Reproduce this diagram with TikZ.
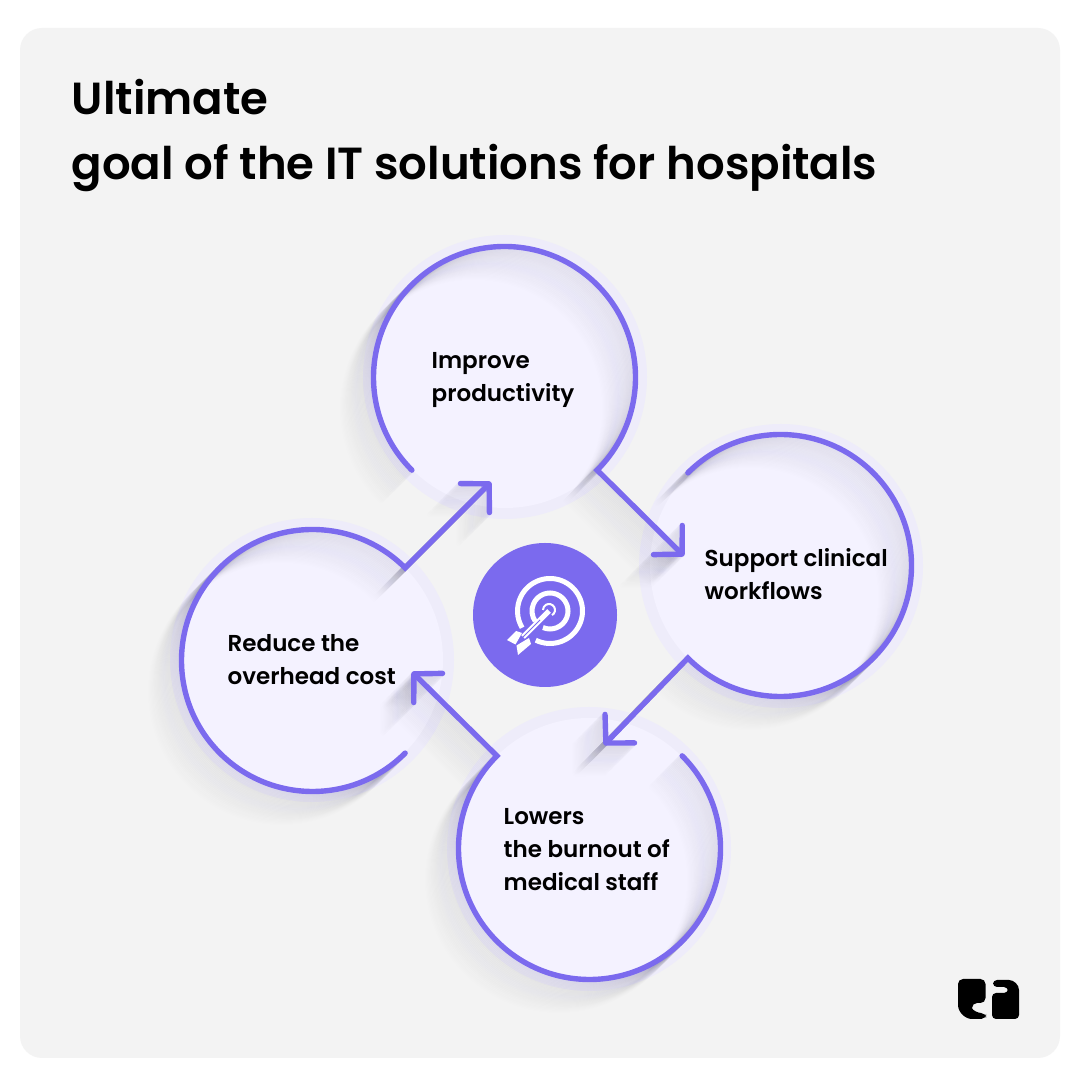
\documentclass[tikz,border=0pt]{standalone}
\usepackage{fontspec}
\setmainfont{Poppins}[UprightFont=* Medium, BoldFont=* SemiBold]
\usetikzlibrary{arrows.meta}

\definecolor{panelgray}{HTML}{F3F3F3}
\definecolor{discfill}{HTML}{F4F2FF}
\definecolor{halofill}{HTML}{EEECFA}
\definecolor{flowpurple}{HTML}{7B6AEE}
\definecolor{shadowtone}{HTML}{333355}

\tikzset{
    halodisc/.style={circle, fill=halofill, minimum size=2.84cm, inner sep=0},
    disc/.style={circle, fill=discfill, minimum size=2.62cm, inner sep=0},
    flowline/.style={line width=0.054cm, line cap=round, miter limit=10,
        -{Straight Barb[length=0.2cm, width=0.41cm, line width=0.054cm, round=false]}},
    caption/.style={anchor=north west, align=left, inner sep=0, text=black,
        font=\fontsize{6.55}{9.39}\selectfont\bfseries},
    iconline/.style={white, line width=0.05cm}
}

\newcommand{\ringpaths}{
    \draw[flowline]
        (top.225) arc[start angle=225, delta angle=-270, radius=1.31] -- (tipright);
    \draw[flowline]
        (right.135) arc[start angle=135, delta angle=-270, radius=1.31] -- (tipbottom);
    \draw[flowline]
        (bottom.45) arc[start angle=45, delta angle=-270, radius=1.31] -- (tipleft);
    \draw[flowline]
        (left.-45) arc[start angle=-45, delta angle=-270, radius=1.31] -- (tiptop);
}

\begin{document}
\begin{tikzpicture}
    \useasboundingbox (0,0) rectangle (10.8,10.8);
    \fill[white] (0,0) rectangle (10.8,10.8);
    \fill[panelgray, rounded corners=0.22cm] (0.2,0.22) rectangle (10.6,10.52);

    \node[anchor=north west, align=left, inner sep=0, font=\fontsize{12.8}{18.5}\selectfont\bfseries] (title)
        at (0.71,10.01) {Ultimate\\goal of the IT solutions for hospitals};

    % discs
    \node[halodisc] (tophalo) at (5.05,7.03) {};
    \node[halodisc] (righthalo) at (7.81,5.14) {};
    \node[halodisc] (bottomhalo) at (5.89,2.31) {};
    \node[halodisc] (lefthalo) at (3.12,4.20) {};
    \node[disc] (top) at (tophalo) {};
    \node[disc] (right) at (righthalo) {};
    \node[disc] (bottom) at (bottomhalo) {};
    \node[disc] (left) at (lefthalo) {};

    \coordinate (tipright) at (6.84,5.24);
    \coordinate (tipbottom) at (6.04,3.35);
    \coordinate (tipleft) at (4.12,4.08);
    \coordinate (tiptop) at (4.91,5.98);

    % long shadows
    \foreach \k [evaluate=\k as \op using 0.024*(1-\k/31)] in {1,...,30} {
        \begin{scope}[transform canvas={shift={(-\k*0.011,-\k*0.011)}}, color=shadowtone, opacity=\op]
            \ringpaths
        \end{scope}
    }
    \begin{scope}[color=flowpurple]
        \ringpaths
    \end{scope}

    % centre
    \node[circle, fill=flowpurple, minimum size=1.44cm, inner sep=0] (goal) at (5.45,4.65) {};
    \draw[iconline] (5.50,4.69) ++(244:0.325) arc[start angle=244, delta angle=327, radius=0.325];
    \draw[iconline] (5.50,4.69) ++(247:0.18) arc[start angle=247, delta angle=328, radius=0.18];
    \draw[white, line width=0.02cm] (5.49,4.70) ++(-60:0.06) arc[start angle=-60, delta angle=240, radius=0.06];
    \draw[white, line width=0.05cm] (5.49,4.69) -- (5.23,4.43);
    \draw[flowpurple, line width=0.008cm] (5.40,4.60) -- (5.14,4.34);
    \fill[white] (5.07,4.40) -- (5.16,4.49) -- (5.22,4.47) -- (5.155,4.355) -- cycle;
    \fill[white] (5.18,4.25) -- (5.31,4.36) -- (5.29,4.42) -- (5.165,4.345) -- cycle;

    % logo
    \fill[black, rounded corners=0.05cm] (9.58,1.01) -- (9.855,1.01) -- (9.855,0.77) -- (9.72,0.77)
        .. controls (9.72,0.70) and (9.78,0.67) .. (9.86,0.67) -- (9.86,0.61) -- (9.77,0.61)
        .. controls (9.65,0.61) and (9.58,0.68) .. (9.58,0.80) -- cycle;
    \fill[black, rounded corners=0.04cm] (9.93,1.00) -- (10.05,1.00)
        .. controls (10.14,1.00) and (10.19,0.95) .. (10.19,0.86) -- (10.19,0.61) -- (9.92,0.61)
        -- (9.92,0.87) -- (10.08,0.87) -- (10.08,0.93) -- (9.93,0.93) -- cycle;

    % captions
    \node[caption] (topcap) at (4.31,7.28) {Improve\\productivity};
    \node[caption] (rightcap) at (7.04,5.32) {Support clinical\\workflows};
    \node[caption] (bottomcap) at (5.03,2.72) {Lowers\\the burnout of\\medical staff};
    \node[caption] (leftcap) at (2.27,4.46) {Reduce the\\overhead cost};
\end{tikzpicture}
\end{document}
